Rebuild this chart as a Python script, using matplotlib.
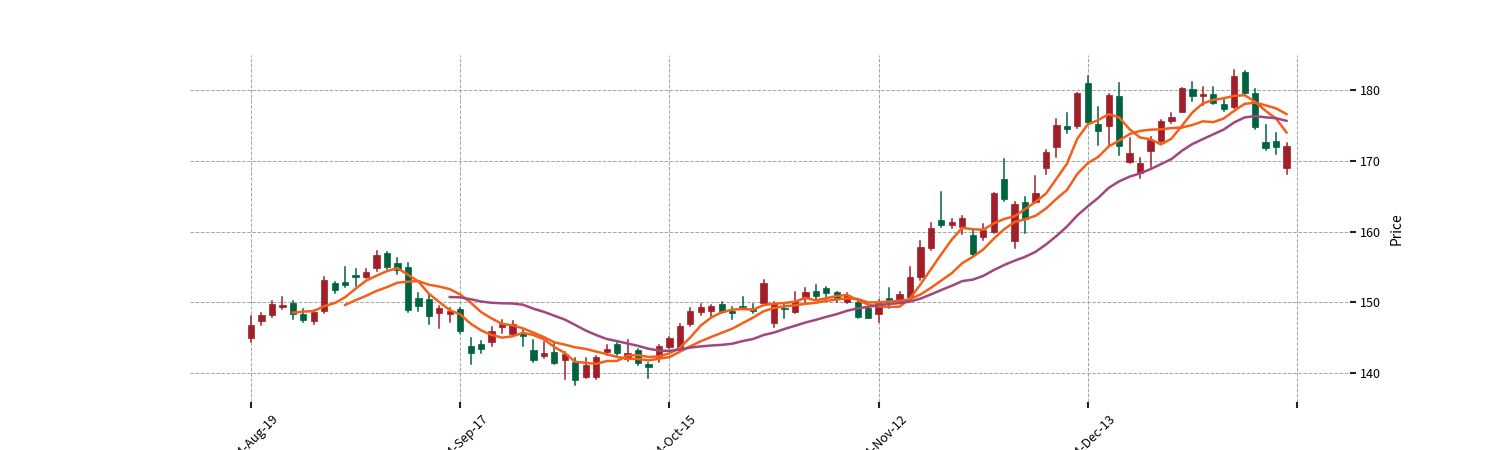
import matplotlib
matplotlib.use("Agg")
import matplotlib.pyplot as plt
from matplotlib.patches import Rectangle
import pandas as pd

plt.rcParams['font.family'] = ['Noto Sans CJK SC', 'DejaVu Sans']

# daily candles (red = close above open)
opens = [145.0, 147.4, 148.2, 149.3, 149.9, 148.3, 147.35, 148.7, 152.76, 152.9,
         153.85, 153.6, 154.9, 157.0, 155.5, 155.0, 150.64, 150.4, 148.5, 148.34,
         149.0, 143.86, 144.06, 144.42, 146.54, 145.5, 145.7, 143.25, 142.4, 143.0,
         141.84, 141.6, 139.48, 139.5, 143.0, 144.1, 141.94, 143.25, 141.23, 142.3,
         143.63, 143.5, 146.9, 148.66, 148.8, 149.75, 148.8, 149.47, 149.14, 149.94,
         147.1, 149.23, 148.58, 150.56, 151.6, 151.97, 151.4, 150.08, 150.08, 149.14,
         148.34, 150.56, 150.2, 150.78, 153.6, 157.6, 161.63, 160.92, 160.6, 159.5,
         159.27, 159.9, 167.4, 158.7, 164.13, 164.2, 169.0, 172.0, 174.9, 174.9,
         180.95, 175.15, 174.9, 179.15, 169.87, 168.22, 171.42, 172.83, 175.62, 176.93,
         180.1, 179.2, 179.43, 178.0, 177.64, 182.6, 179.6, 172.7, 172.83, 169.0]
highs = [148.1, 148.5, 150.2, 150.8, 150.2, 149.1, 148.9, 153.5, 152.86, 154.94,
         154.66, 154.66, 157.24, 157.15, 156.2, 155.5, 151.35, 151.0, 149.4, 149.14,
         149.14, 144.9, 144.56, 146.54, 147.5, 147.4, 146.08, 144.66, 144.42, 144.2,
         143.0, 142.08, 142.08, 142.4, 143.96, 144.2, 144.66, 143.35, 141.37, 143.96,
         145.13, 146.9, 149.14, 149.7, 149.6, 150.1, 149.37, 150.8, 149.7, 153.14,
         150.1, 149.85, 151.5, 151.97, 152.44, 152.2, 151.5, 151.26, 150.18, 149.23,
         150.3, 151.97, 151.4, 154.94, 158.66, 161.16, 165.6, 161.77, 162.2, 160.2,
         161.06, 165.5, 170.2, 164.2, 164.84, 167.84, 171.5, 175.86, 176.7, 179.6,
         181.98, 177.64, 179.4, 181.0, 173.26, 170.43, 173.3, 175.76, 176.7, 180.3,
         181.17, 180.47, 180.47, 178.7, 182.83, 182.73, 180.1, 175.05, 173.96, 172.47]
lows = [144.4, 146.8, 147.9, 149.0, 147.7, 147.25, 146.9, 148.5, 151.26, 152.2,
        152.34, 153.4, 154.42, 154.7, 153.95, 148.66, 148.76, 146.9, 146.4, 147.25,
        145.7, 141.27, 142.78, 143.8, 145.6, 145.37, 143.8, 141.6, 142.08, 141.23,
        139.1, 138.3, 139.25, 139.1, 142.5, 142.5, 141.74, 141.13, 139.25, 141.6,
        143.49, 143.25, 146.64, 148.2, 148.1, 148.5, 147.6, 149.14, 148.44, 149.75,
        146.54, 147.73, 148.44, 150.08, 150.4, 150.2, 150.08, 149.94, 147.73, 147.73,
        147.25, 149.14, 149.94, 150.7, 153.14, 157.4, 160.68, 160.45, 159.6, 156.44,
        158.8, 159.75, 164.35, 157.7, 159.75, 163.98, 168.2, 170.57, 173.88, 174.6,
        175.38, 172.2, 172.2, 170.8, 169.64, 167.52, 169.16, 172.69, 175.3, 176.85,
        178.44, 177.88, 177.98, 177.08, 177.5, 179.4, 174.5, 171.5, 170.95, 168.1]
closes = [146.8, 148.2, 149.75, 149.6, 148.3, 147.5, 148.66, 153.2, 151.73, 152.44,
          153.57, 154.32, 156.7, 155.0, 154.56, 148.9, 149.5, 148.06, 149.14, 148.8,
          145.94, 142.87, 143.35, 145.94, 146.9, 146.9, 145.27, 141.84, 142.87, 141.46,
          142.7, 139.0, 141.13, 142.2, 143.4, 142.78, 142.78, 141.46, 140.9, 143.8,
          145.0, 146.64, 148.8, 149.3, 149.5, 148.66, 148.5, 149.3, 148.8, 152.68,
          149.7, 149.0, 150.2, 151.5, 150.93, 151.26, 150.46, 151.0, 147.87, 147.82,
          149.85, 150.2, 151.1, 153.6, 157.85, 160.54, 160.92, 161.38, 161.95, 156.78,
          160.2, 165.4, 164.55, 163.84, 161.77, 165.4, 171.2, 175.05, 174.44, 179.53,
          175.52, 174.2, 179.3, 172.08, 171.14, 169.72, 173.0, 175.62, 176.14, 180.24,
          179.15, 179.4, 178.12, 177.3, 181.98, 179.53, 174.73, 171.76, 171.9, 172.08]

tick_labels = ['2024-Aug-19', '2024-Sep-17', '2024-Oct-15', '2024-Nov-12', '2024-Dec-13', '']
tick_step = 20
ma_windows = [5, 10, 20]

up_color = '#a01f28'
down_color = '#006340'
ma_colors = ['#f2601b', '#f2601b', '#a0487e']

df = pd.DataFrame({'Open': opens, 'High': highs, 'Low': lows, 'Close': closes})

fig = plt.figure(figsize=(15, 4.5), dpi=100)
ax = fig.add_axes([0.1267, 0.1067, 0.7733, 0.771])

w = 0.6
for i, row in df.iterrows():
    c = up_color if row.Close >= row.Open else down_color
    ax.plot([i, i], [row.Low, row.High], color=c, lw=1.1, zorder=2)
    lo = min(row.Open, row.Close)
    h = max(abs(row.Close - row.Open), 0.08)
    ax.add_patch(Rectangle((i - w / 2, lo), w, h, facecolor=c, edgecolor=c,
                           lw=0.5, zorder=3))

for win, col in zip(ma_windows, ma_colors):
    ma = df.Close.rolling(win).mean()
    ax.plot(df.index, ma, color=col, lw=1.8, zorder=4)

ax.set_xlim(-5.83, 105.07)
ax.set_ylim(135.9, 184.95)

ax.set_xticks([k * tick_step for k in range(len(tick_labels))])
ax.set_xticklabels(tick_labels, rotation=45, ha='center', fontsize=9)
ax.set_yticks([140, 150, 160, 170, 180])

ax.yaxis.tick_right()
ax.yaxis.set_label_position('right')
ax.set_ylabel('Price', fontsize=10, labelpad=6)
ax.tick_params(axis='both', length=4, width=1.5, color='#222222', labelsize=9)

for s in ax.spines.values():
    s.set_visible(False)
ax.grid(True, linestyle='--', color='#a6a6a6', lw=0.7)
ax.set_axisbelow(True)

fig.savefig('out.png', dpi=100)
